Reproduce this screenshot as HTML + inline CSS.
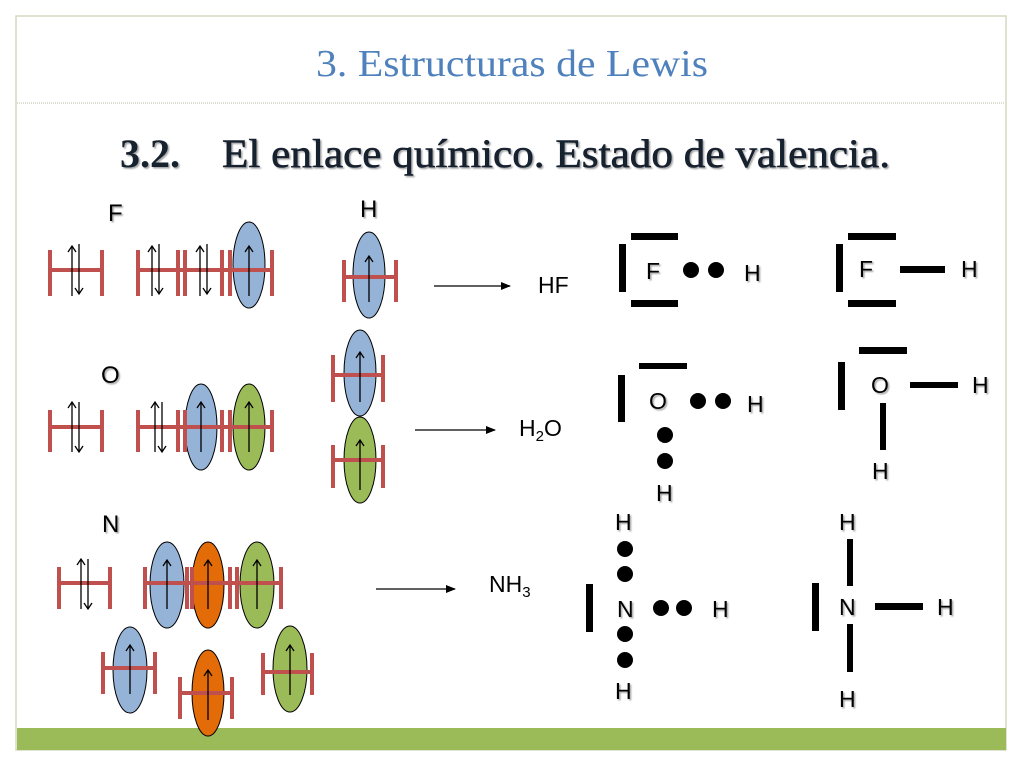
<!DOCTYPE html>
<html><head><meta charset="utf-8"><style>
html,body{margin:0;padding:0;background:#fff;}
svg{display:block;}
text{font-family:"Liberation Sans",sans-serif;fill:#000;}
.s{font-family:"Liberation Serif",serif;}
</style></head><body>
<svg width="1024" height="768" viewBox="0 0 1024 768" xmlns="http://www.w3.org/2000/svg">
<defs>
<marker id="ah" markerWidth="10" markerHeight="8" refX="9" refY="4" orient="auto" markerUnits="userSpaceOnUse"><path d="M0,0 L10,4 L0,8 Z" fill="#000"/></marker>
<filter id="sh"><feDropShadow dx="1.5" dy="1.5" stdDeviation="0.8" flood-color="#000" flood-opacity="0.35"/></filter>
</defs>
<rect x="16" y="16" width="990" height="734" fill="#fff" stroke="#d6d9c2" stroke-width="1.5"/>
<line x1="17" y1="103" x2="1005" y2="103" stroke="#b9bca3" stroke-width="1" stroke-dasharray="1,1"/>
<rect x="17" y="728" width="989" height="22" fill="#9bbb59"/>
<text class="s" x="512" y="76" text-anchor="middle" font-size="38" style="fill:#4f81bd" textLength="392" lengthAdjust="spacingAndGlyphs">3. Estructuras de Lewis</text>
<g filter="url(#sh)">
<text class="s" x="120" y="167" font-size="40" font-weight="bold" style="fill:#17202e" textLength="60" lengthAdjust="spacingAndGlyphs">3.2.</text>
<text class="s" x="222" y="167" font-size="40" style="fill:#17202e;stroke:#17202e;stroke-width:0.6" textLength="668" lengthAdjust="spacingAndGlyphs">El enlace químico. Estado de valencia.</text>
</g>

<g font-size="24" filter="url(#sh)">
<text x="108" y="221">F</text>
<text x="360" y="217">H</text>
<text x="101" y="383">O</text>
<text x="102" y="532">N</text>
</g>

<g stroke="#000" stroke-width="1">
<ellipse cx="249" cy="265" rx="16" ry="43" fill="#95b3d7"/>
<ellipse cx="369" cy="275" rx="16" ry="43" fill="#95b3d7"/>
<ellipse cx="201" cy="427" rx="16" ry="43" fill="#95b3d7"/>
<ellipse cx="249" cy="427" rx="16" ry="43" fill="#9bbb59"/>
<ellipse cx="360" cy="373" rx="16" ry="43" fill="#95b3d7"/>
<ellipse cx="360" cy="460" rx="16" ry="43" fill="#9bbb59"/>
<ellipse cx="167" cy="585" rx="17" ry="43" fill="#95b3d7"/>
<ellipse cx="208" cy="585" rx="16" ry="43" fill="#e36c09"/>
<ellipse cx="257" cy="585" rx="17" ry="43" fill="#9bbb59"/>
<ellipse cx="130" cy="670" rx="17" ry="43" fill="#95b3d7"/>
<ellipse cx="208" cy="693" rx="16" ry="43" fill="#e36c09"/>
<ellipse cx="290" cy="669" rx="17" ry="43" fill="#9bbb59"/>
</g>

<g stroke="#c0504d" stroke-width="4" fill="none">
<path d="M50,250V296M102,250V296M50,270H102"/>
<path d="M138,250V296M178,250V296M185,250V296M222,250V296M230,250V296M272,250V296M138,270H272"/>
<path d="M344,260V302M396,260V302M344,277H396"/>
<path d="M50,410V452M102,410V452M50,427H102"/>
<path d="M138,410V452M178,410V452M185,410V452M222,410V452M230,410V452M272,410V452M138,427H272"/>
<path d="M333,355V402M383,355V402M333,375H383"/>
<path d="M333,445V488M383,445V488M333,460H383"/>
<path d="M59,567V609M110,567V609M59,583H110"/>
<path d="M145,567V609M187,567V609M192,567V609M230,567V609M237,567V609M281,567V609M145,583H281"/>
<path d="M103,652V694M155,652V694M103,668H155"/>
<path d="M180,677V719M232,677V719M180,693H232"/>
<path d="M263,653V695M312,653V695M263,672H312"/>
</g>

<g stroke="#000" stroke-width="1.3" fill="none">
<path d="M72,296V246M68,252L72,246L76,252 M79,244V294M75,288L79,294L83,288"/>
<path d="M152,296V246M148,252L152,246L156,252 M159,244V294M155,288L159,294L163,288"/>
<path d="M200,296V246M196,252L200,246L204,252 M207,244V294M203,288L207,294L211,288"/>
<path d="M249,296V246M245,252L249,246L253,252"/>
<path d="M369,302V256M365,262L369,256L373,262"/>
<path d="M72,452V402M68,408L72,402L76,408 M79,402V452M75,446L79,452L83,446"/>
<path d="M155,452V402M151,408L155,402L159,408 M162,402V452M158,446L162,452L166,446"/>
<path d="M201,452V402M197,408L201,402L205,408"/>
<path d="M249,452V402M245,408L249,402L253,408"/>
<path d="M360,402V352M356,358L360,352L364,358"/>
<path d="M360,490V440M356,446L360,440L364,446"/>
<path d="M81,609V559M77,565L81,559L85,565 M88,559V609M84,603L88,609L92,603"/>
<path d="M167,609V560M163,566L167,560L171,566"/>
<path d="M208,609V560M204,566L208,560L212,566"/>
<path d="M257,609V560M253,566L257,560L261,566"/>
<path d="M130,694V645M126,651L130,645L134,651"/>
<path d="M208,720V670M204,676L208,670L212,676"/>
<path d="M290,695V645M286,651L290,645L294,651"/>
</g>

<g stroke="#000" stroke-width="1.2">
<line x1="434" y1="286" x2="510" y2="286" marker-end="url(#ah)"/>
<line x1="415" y1="430" x2="495" y2="430" marker-end="url(#ah)"/>
<line x1="376" y1="589" x2="455" y2="589" marker-end="url(#ah)"/>
</g>
<g font-size="23">
<text x="538" y="293">HF</text>
<text x="519" y="436">H<tspan font-size="15" dy="5">2</tspan><tspan dy="-5">O</tspan></text>
<text x="489" y="592">NH<tspan font-size="15" dy="5">3</tspan></text>
</g>

<g fill="#000">
<rect x="631" y="233" width="47" height="7"/><rect x="631" y="300" width="47" height="7"/><rect x="619" y="244" width="7" height="48"/>
<circle cx="691" cy="270" r="8"/><circle cx="716" cy="270" r="8"/>
<rect x="848" y="233" width="48" height="7"/><rect x="848" y="300" width="48" height="7"/><rect x="836" y="244" width="7" height="48"/>
<rect x="900" y="266" width="45" height="7"/>
<rect x="639" y="363" width="48" height="6"/><rect x="618" y="375" width="7" height="47"/>
<circle cx="698" cy="401" r="8"/><circle cx="723" cy="401" r="8"/>
<circle cx="665" cy="435" r="8"/><circle cx="665" cy="461" r="8"/>
<rect x="859" y="347" width="48" height="7"/><rect x="838" y="362" width="7" height="48"/>
<rect x="910" y="382" width="48" height="6"/><rect x="880" y="403" width="6" height="47"/>
<circle cx="625" cy="549" r="8"/><circle cx="625" cy="574" r="8"/>
<circle cx="625" cy="634" r="8"/><circle cx="625" cy="660" r="8"/>
<circle cx="661" cy="608" r="8"/><circle cx="684" cy="608" r="8"/>
<rect x="586" y="584" width="7" height="48"/>
<rect x="847" y="539" width="6" height="47"/><rect x="812" y="583" width="7" height="48"/>
<rect x="875" y="603" width="48" height="7"/><rect x="847" y="624" width="6" height="48"/>
</g>
<g font-size="23" filter="url(#sh)">
<text x="646" y="279">F</text><text x="744" y="281">H</text>
<text x="859" y="277">F</text><text x="961" y="277">H</text>
<text x="649" y="409">O</text><text x="747" y="412">H</text><text x="656" y="501">H</text>
<text x="871" y="393">O</text><text x="972" y="393">H</text><text x="872" y="479">H</text>
<text x="615" y="530">H</text><text x="617" y="617">N</text><text x="712" y="617">H</text><text x="615" y="699">H</text>
<text x="839" y="530">H</text><text x="839" y="615">N</text><text x="937" y="615">H</text><text x="839" y="707">H</text>
</g>
</svg>
</body></html>
